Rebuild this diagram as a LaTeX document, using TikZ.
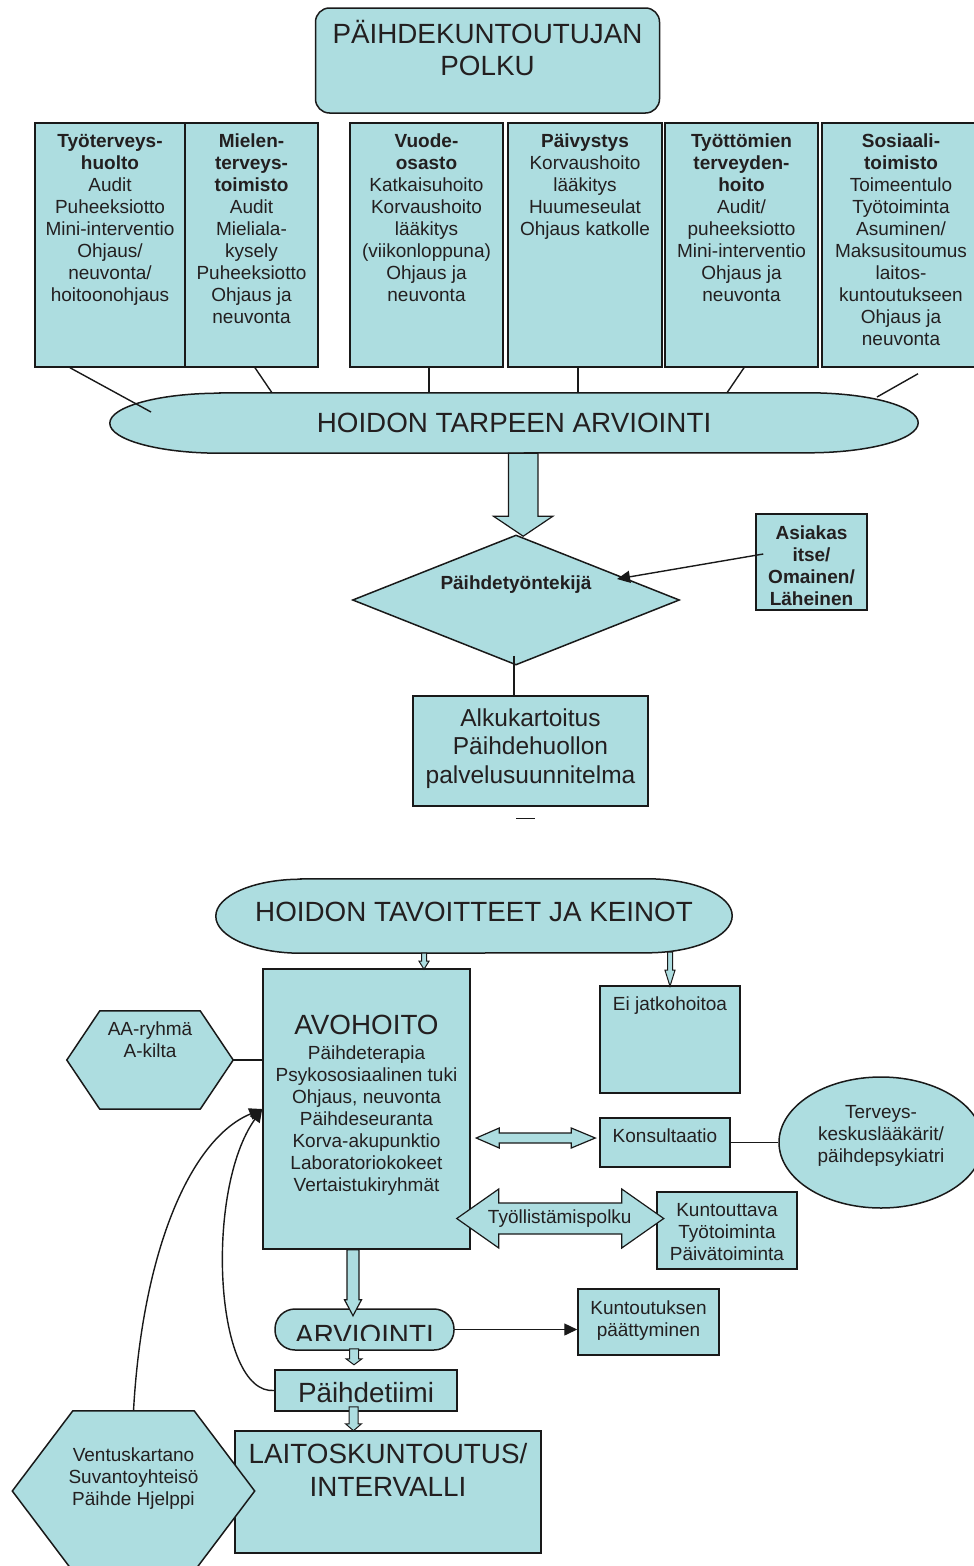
\documentclass[tikz,border=0pt]{standalone}
\usepackage{fontspec}
\setmainfont{Liberation Sans}
\usetikzlibrary{shapes.geometric, arrows.meta, positioning, calc}
\definecolor{boxfill}{RGB}{173,221,224}
\definecolor{linecol}{RGB}{25,25,25}
\definecolor{txtcol}{RGB}{35,31,32}
\newcommand{\txtsmall}{\fontsize{19}{22}\selectfont}
\newcommand{\txtmid}{\fontsize{24.5}{28.3}\selectfont}
\newcommand{\txtbig}{\fontsize{27.8}{32}\selectfont}
\tikzset{
    boxbase/.style={draw=linecol, fill=boxfill, line width=1.5pt},
    flowbox/.style={boxbase, rectangle, inner sep=0pt},
    ghost/.style={rectangle, inner sep=0pt},
    boxtxt/.style={align=center, inner sep=0pt, text=txtcol, font=\txtsmall},
    bigtxt/.style={boxtxt, font=\txtbig},
    link/.style={draw=linecol, line width=1.4pt},
    arr/.style={link, -{Triangle[length=13pt, width=12pt]}},
    blockarr/.style={boxbase, line width=1.2pt, line join=miter},
}

\begin{document}
\begin{tikzpicture}[x=1pt, y=-1pt]
\useasboundingbox (0,0) rectangle (974,1566);

% title
\node[flowbox, rounded corners=14pt, minimum width=344pt, minimum height=105pt] (polku) at (487.5,60.5) {};
\node[bigtxt, below=12.5pt of polku.north] (polkutxt) {PÄIHDEKUNTOUTUJAN\\POLKU};

% service providers
\node[flowbox, minimum width=150pt, minimum height=244pt] (tth) at (110,245) {};
\node[flowbox, minimum width=133pt, minimum height=244pt] (mtt) at (251.5,245) {};
\node[flowbox, minimum width=153pt, minimum height=244pt] (vuo) at (426.5,245) {};
\node[flowbox, minimum width=154pt, minimum height=244pt] (paiv) at (585,245) {};
\node[flowbox, minimum width=153pt, minimum height=244pt] (tyot) at (741.5,245) {};
\node[flowbox, minimum width=158pt, minimum height=244pt] (sos) at (901,245) {};

\node[boxtxt, below=11.4pt of tth.north] (tthtxt) {{\bfseries Työterveys-}\\{\bfseries huolto}\\Audit\\Puheeksiotto\\Mini-interventio\\Ohjaus/\\neuvonta/\\hoitoonohjaus};
\node[boxtxt, below=11.4pt of mtt.north] (mtttxt) {{\bfseries Mielen-}\\{\bfseries terveys-}\\{\bfseries toimisto}\\Audit\\Mieliala-\\kysely\\Puheeksiotto\\Ohjaus ja\\neuvonta};
\node[boxtxt, below=11.4pt of vuo.north] (vuotxt) {{\bfseries Vuode-}\\{\bfseries osasto}\\Katkaisuhoito\\Korvaushoito\\lääkitys\\(viikonloppuna)\\Ohjaus ja\\neuvonta};
\node[boxtxt, below=11.4pt of paiv.north] (paivtxt) {{\bfseries Päivystys}\\Korvaushoito\\lääkitys\\Huumeseulat\\Ohjaus katkolle};
\node[boxtxt, below=11.4pt of tyot.north] (tyottxt) {{\bfseries Työttömien}\\{\bfseries terveyden-}\\{\bfseries hoito}\\Audit/\\puheeksiotto\\Mini-interventio\\Ohjaus ja\\neuvonta};
\node[boxtxt, below=11.4pt of sos.north] (sostxt) {{\bfseries Sosiaali-}\\{\bfseries toimisto}\\Toimeentulo\\Työtoiminta\\Asuminen/\\Maksusitoumus\\laitos-\\kuntoutukseen\\Ohjaus ja\\neuvonta};

% assessment of need
\node[ghost, minimum width=808pt, minimum height=60pt] (tarve) at (514,423) {};
\draw[boxbase] ($(tarve.north west)+(110,0)$) -- ($(tarve.north east)+(-110,0)$)
    arc[start angle=90, end angle=-90, x radius=110pt, y radius=30pt]
    -- ($(tarve.south west)+(110,0)$)
    arc[start angle=270, end angle=90, x radius=110pt, y radius=30pt] -- cycle;
\node[bigtxt, below=20.3pt of tarve.north] (tarvetxt) {HOIDON TARPEEN ARVIOINTI};

\draw[link] ($(tth.south)+(-40,0)$) -- ($(tarve.center)+(-363,-11)$);
\draw[link] ($(mtt.south)+(3.5,0)$) -- ($(tarve.north)+(-242,0)$);
\draw[link] ($(vuo.south)+(2.5,0)$) -- ($(tarve.north)+(-85,0)$);
\draw[link] ($(paiv.south)+(-7,0)$) -- ($(tarve.north)+(64,0)$);
\draw[link] ($(tyot.south)+(2.5,0)$) -- ($(tarve.north)+(213,0)$);
\draw[link] ($(sos.south)+(17,6)$) -- ($(tarve.center)+(363,-26)$);

% substance abuse worker
\node[boxbase, diamond, minimum width=327pt, minimum height=130pt, inner sep=0pt] (tekija) at (516,600) {};
\node[boxtxt, font=\txtsmall\bfseries, below=41.5pt of tekija.north] (tekijatxt) {Päihdetyöntekijä};
\draw[blockarr] ($(tarve.south)+(-5.5,0)$) -- ++(0,63) -- ++(-15,0) -- ++(29.7,20)
    -- ++(29.7,-20) -- ++(-15,0) -- ++(0,-63) -- cycle;

\node[flowbox, minimum width=111pt, minimum height=96pt] (asiakas) at (811.5,562) {};
\node[boxtxt, font=\txtsmall\bfseries, below=12pt of asiakas.north] (asiakastxt) {Asiakas\\itse/\\Omainen/\\Läheinen};
\draw[arr] ($(asiakas.west)+(8,-8)$) -- ($(tekija.center)+(101,-21)$);

\node[flowbox, minimum width=235pt, minimum height=110pt] (alku) at (530.5,751) {};
\node[boxtxt, font=\txtmid, below=13.3pt of alku.north] (alkutxt) {Alkukartoitus\\Päihdehuollon\\palvelusuunnitelma};
\draw[link] ($(tekija.south)+(-2,-10)$) -- ($(alku.north)+(-16.5,0)$);
\draw[link] ($(alku.south)+(-14.5,12)$) -- ++(19,0);

% goals and means
\node[ghost, minimum width=516pt, minimum height=74pt] (tavoite) at (474,916) {};
\draw[boxbase] ($(tavoite.north west)+(85,0)$) -- ($(tavoite.north east)+(-85,0)$)
    arc[start angle=90, end angle=-90, x radius=85pt, y radius=37pt]
    -- ($(tavoite.south west)+(85,0)$)
    arc[start angle=270, end angle=90, x radius=85pt, y radius=37pt] -- cycle;
\node[bigtxt, below=22.7pt of tavoite.north] (tavoitetxt) {HOIDON TAVOITTEET JA KEINOT};

% outpatient care
\node[flowbox, minimum width=207pt, minimum height=280pt] (avo) at (366.5,1109) {};
\node[boxtxt, below=46.5pt of avo.north] (avotxt) {{\txtbig AVOHOITO}\\[3pt]Päihdeterapia\\Psykososiaalinen tuki\\Ohjaus, neuvonta\\Päihdeseuranta\\Korva-akupunktio\\Laboratoriokokeet\\Vertaistukiryhmät};

\node[ghost, minimum width=166pt, minimum height=98pt] (aa) at (150,1060) {};
\draw[boxbase] (aa.west) -- ($(aa.north west)+(33,0)$) -- ($(aa.north east)+(-33,0)$) -- (aa.east)
    -- ($(aa.south east)+(-33,0)$) -- ($(aa.south west)+(33,0)$) -- cycle;
\node[boxtxt, below=11pt of aa.north] (aatxt) {AA-ryhmä\\A-kilta};
\draw[link] (aa.east) -- (aa.east -| avo.west);

\node[flowbox, minimum width=140pt, minimum height=107pt] (eijat) at (670,1039.5) {};
\node[boxtxt, below=11.7pt of eijat.north] (eijattxt) {Ei jatkohoitoa};

\draw[blockarr, line width=1pt] ($(tavoite.south)+(-52.5,0)$) -- ++(0,8) -- ++(-2.5,0) -- ++(5,8)
    -- ++(5,-8) -- ++(-2.5,0) -- ++(0,-8) -- cycle;
\draw[blockarr, line width=1pt] ($(tavoite.south)+(193.5,-1)$) -- ++(0,18) -- ++(-2.5,0) -- ++(5,16)
    -- ++(5,-16) -- ++(-2.5,0) -- ++(0,-18) -- cycle;

\node[flowbox, minimum width=130pt, minimum height=49pt] (kons) at (665,1142.5) {};
\node[boxtxt, below=11.6pt of kons.north] (konstxt) {Konsultaatio};
\node[boxbase, ellipse, minimum width=204pt, minimum height=131pt, inner sep=0pt] (terv) at (881,1142.5) {};
\node[boxtxt, below=29pt of terv.north] (tervtxt) {Terveys-\\keskuslääkärit/\\päihdepsykiatri};
\draw[link] (kons.east) -- (terv.west);
\draw[blockarr] ($(kons.west)+(-123,-4.5)$) -- ++(23,-10) -- ++(0,5) -- ++(72,0) -- ++(0,-5)
    -- ++(24,10) -- ++(-24,10) -- ++(0,-5) -- ++(-72,0) -- ++(0,5) -- cycle;

\node[flowbox, minimum width=140pt, minimum height=77pt] (kuntt) at (727,1230.5) {};
\node[boxtxt, below=12pt of kuntt.north] (kunttxt) {Kuntouttava\\Työtoiminta\\Päivätoiminta};
\draw[blockarr] ($(avo.east)+(-14,109.5)$) -- ++(42,-29.5) -- ++(0,14) -- ++(123,0) -- ++(0,-14)
    -- ++(42,29.5) -- ++(-42,29.5) -- ++(0,-14) -- ++(-123,0) -- ++(0,14) -- cycle;
\node[boxtxt] (tyopolku) at ($(avo.east)+(89,109.5)$) {Työllistämispolku};

% evaluation and team
\node[flowbox, rounded corners=20pt, minimum width=179pt, minimum height=41pt] (arv) at (364.5,1329.5) {};
\begin{scope}
\clip (arv.north west) rectangle ($(arv.east)+(0,10.5)$);
\node[bigtxt, below=17pt of arv.north] (arvtxt) {ARVIOINTI};
\end{scope}
\draw[blockarr] ($(avo.south)+(-19.5,0)$) -- ++(0,50) -- ++(-2.5,0) -- ++(8.5,16)
    -- ++(8.5,-16) -- ++(-2.5,0) -- ++(0,-50) -- cycle;

\node[flowbox, minimum width=141pt, minimum height=66pt] (kunte) at (648.5,1322) {};
\node[boxtxt, below=12.7pt of kunte.north] (kuntetxt) {Kuntoutuksen\\päättyminen};
\draw[arr] (arv.east) -- (arv.east -| kunte.west);

\node[flowbox, minimum width=182pt, minimum height=41pt] (tiimi) at (366,1390.5) {};
\node[bigtxt, below=12.7pt of tiimi.north] (tiimitxt) {Päihdetiimi};
\draw[blockarr, line width=1pt] ($(arv.south)+(-15,-2)$) -- ++(0,10) -- ++(-3.5,0) -- ++(8,6)
    -- ++(8,-6) -- ++(-3.5,0) -- ++(0,-10) -- cycle;

\node[flowbox, minimum width=306pt, minimum height=122pt] (laitos) at (388,1492) {};
\node[boxtxt, font={\fontsize{27.8}{33.5}\selectfont}, below=12.5pt of laitos.north] (laitostxt) {LAITOSKUNTOUTUS/\\INTERVALLI};
\draw[blockarr, line width=1pt] ($(tiimi.south)+(-17,-5)$) -- ++(0,17) -- ++(-3.5,0) -- ++(8,7)
    -- ++(8,-7) -- ++(-3.5,0) -- ++(0,-17) -- cycle;

\node[ghost, minimum width=242pt, minimum height=160pt] (ventus) at (133.5,1491) {};
\draw[boxbase] (ventus.west) -- ($(ventus.north west)+(60.5,0)$) -- ($(ventus.north east)+(-60.5,0)$) -- (ventus.east)
    -- ($(ventus.south east)+(-60.5,0)$) -- ($(ventus.south west)+(60.5,0)$) -- cycle;
\node[boxtxt, below=36.3pt of ventus.north] (ventustxt) {Ventuskartano\\Suvantoyhteisö\\Päihde Hjelppi};

% back to outpatient care
\draw[arr] (ventus.north) .. controls +(9,-160) and +(-72,30) .. (avo.west);
\draw[arr] (tiimi.west) .. controls +(-60,4.5) and +(-58,81) .. (avo.west);

\end{tikzpicture}
\end{document}
